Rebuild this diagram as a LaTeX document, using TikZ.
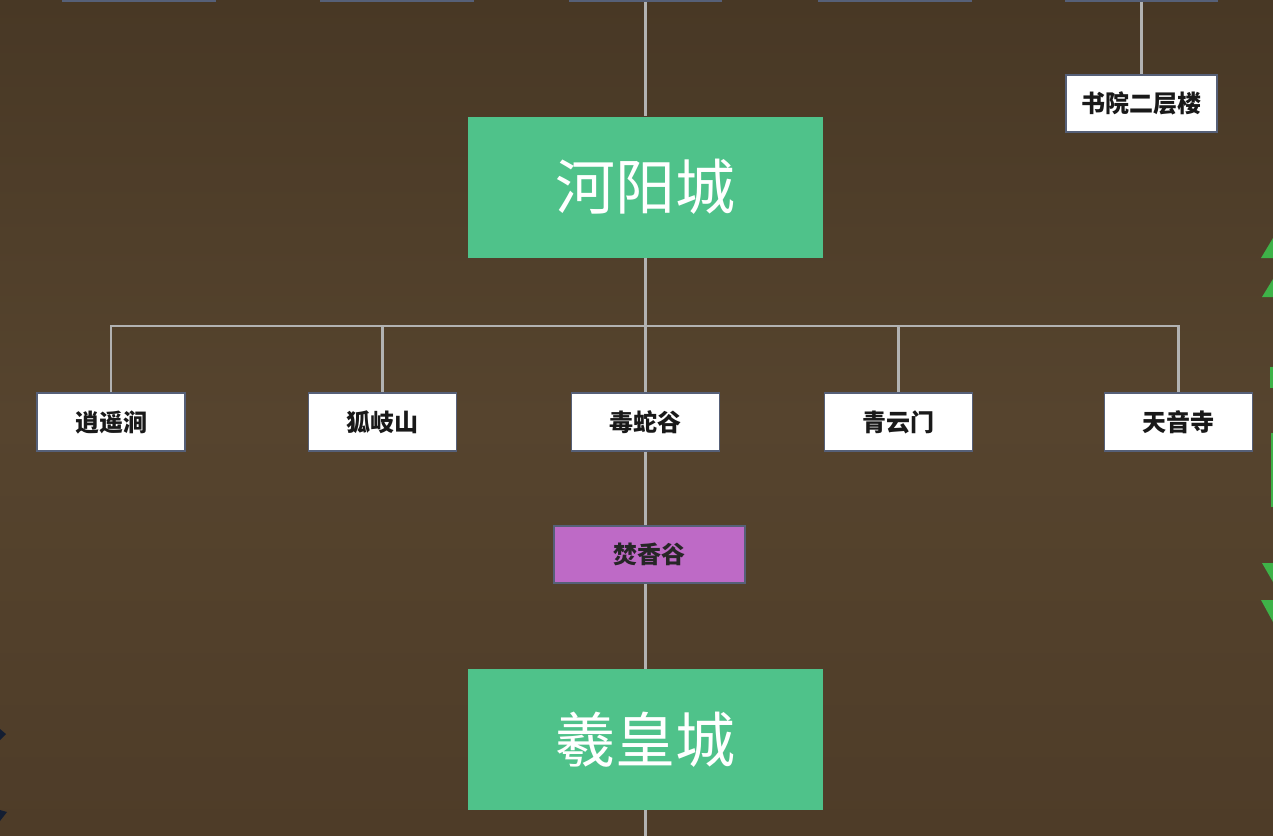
\documentclass[tikz,border=0pt]{standalone}
\usepackage{fontspec}
\newfontfamily\cjk{Noto Sans CJK SC}
\definecolor{bgtop}{RGB}{72,56,37}
\definecolor{bgmid}{RGB}{86,68,46}
\definecolor{bgbot}{RGB}{78,60,40}
\definecolor{citygreen}{RGB}{79,194,138}
\definecolor{purplebox}{RGB}{190,106,198}
\definecolor{boxedge}{RGB}{86,96,120}
\definecolor{linegrey}{RGB}{178,178,178}
\definecolor{leafgreen}{RGB}{62,178,72}
\definecolor{darkblue}{RGB}{20,30,50}
\tikzset{
  city/.style={fill=citygreen, draw=none, minimum width=355pt, minimum height=141pt, inner sep=0pt,
    font=\cjk\fontsize{60}{64}\selectfont, text=white},
  place/.style={fill=white, draw=boxedge, line width=1.8pt, minimum width=148pt, minimum height=58pt, inner sep=0pt,
    font=\cjk\bfseries\fontsize{24}{26}\selectfont, text=black!90},
  special/.style={fill=purplebox, draw=boxedge, line width=1.8pt, minimum width=191pt, minimum height=57pt, inner sep=0pt,
    font=\cjk\bfseries\fontsize{24}{26}\selectfont, text=black!85},
  cutbox/.style={fill=white, draw=boxedge, line width=1.8pt, minimum width=152pt, minimum height=40pt, inner sep=0pt},
  link/.style={draw=linegrey, line width=2.2pt},
  leaf/.style={fill=leafgreen, draw=none}
}
\begin{document}
\begin{tikzpicture}[x=1pt,y=-1pt]
\useasboundingbox (0,0) rectangle (1273,835);
\clip (0,0) rectangle (1273,835);
\shade[top color=bgtop, bottom color=bgbot, middle color=bgmid] (0,0) rectangle (1273,835);
% top cut-off boxes
\node[cutbox] (t1) at (139,-19) {};
\node[cutbox] (t2) at (397,-19) {};
\node[cutbox] (t3) at (645.5,-19) {};
\node[cutbox] (t4) at (895,-19) {};
\node[cutbox] (t5) at (1141.5,-19) {};
% main nodes
\node[city] (hy) at (645.5,187) {河阳城};
\node[city] (xh) at (645.5,739.5) {羲皇城};
\node[place] (a) at (111,422) {逍遥涧};
\node[place] (b) at (382.5,422) {狐岐山};
\node[place] (c) at (645.5,422) {毒蛇谷};
\node[place] (d) at (898.5,422) {青云门};
\node[place] (e) at (1178.5,422) {天音寺};
\node[special] (fx) at (649.5,554.5) {焚香谷};
\node[place, minimum width=151pt, minimum height=57pt] (sy) at (1141.5,103.5) {书院二层楼};
\coordinate (bar) at (645.5,326);
\coordinate (bottomend) at (645.5,840);
% connectors
\draw[link] (t3.south) -- (hy.north);
\draw[link] (t5.south) -- (sy.north);
\draw[link] (hy.south) -- (bar);
\draw[link] (a.north) -- (a.north |- bar) -- (e.north |- bar) -- (e.north);
\draw[link] (b.north) -- (b.north |- bar);
\draw[link] (c.north) -- (c.north |- bar);
\draw[link] (d.north) -- (d.north |- bar);
\draw[link] (c.south) -- (c.south |- fx.north);
\draw[link] (c.south |- fx.south) -- (xh.north);
\draw[link] (xh.south) -- (bottomend);
% edge decorations
\fill[leaf] (1273,238) -- (1261,258) -- (1273,258) -- cycle;
\fill[leaf] (1273,279) -- (1262,297) -- (1273,297) -- cycle;
\fill[leaf] (1270,367) rectangle (1273,388);
\fill[leaf] (1271,433) rectangle (1273,507);
\fill[leaf] (1262,563) -- (1273,563) -- (1273,582) -- cycle;
\fill[leaf] (1261,600) -- (1273,600) -- (1273,622) -- cycle;
\fill[darkblue] (0,729) -- (6,734) -- (0,740) -- cycle;
\fill[darkblue] (0,810) -- (7,812) -- (0,821) -- cycle;
\end{tikzpicture}
\end{document}
